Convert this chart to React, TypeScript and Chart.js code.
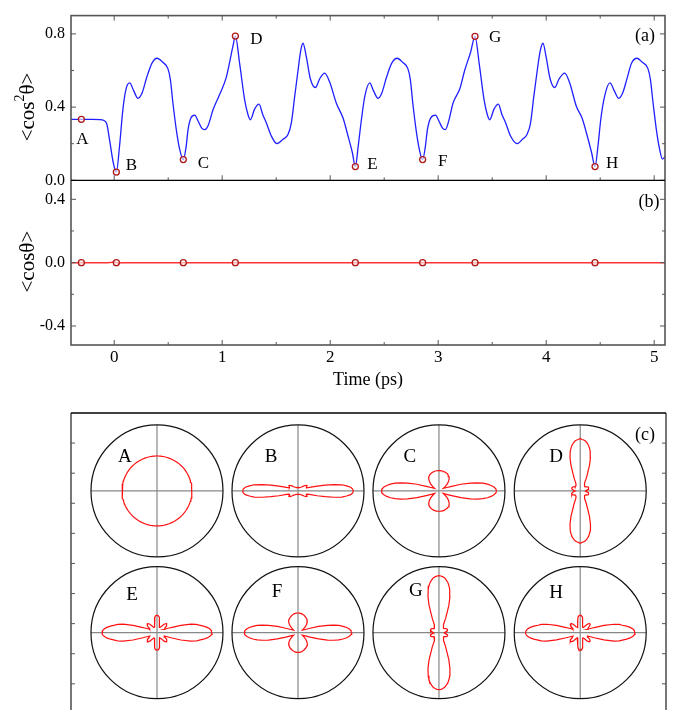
import React, { useEffect, useRef } from 'react';
import { Chart, registerables } from 'chart.js';

Chart.register(...registerables);

// ---------- Data: panel (a) <cos^2 theta> ----------
const TIME = [
  -0.4, -0.3, -0.2, -0.13, -0.1, -0.07, -0.04, -0.01, 0.02, 0.05, 0.08, 0.11, 0.144, 0.18, 0.22, 0.26, 0.3, 0.35,
  0.396, 0.45, 0.498, 0.52, 0.544, 0.575, 0.606, 0.64, 0.665, 0.684, 0.71, 0.745, 0.78, 0.81, 0.838, 0.87, 0.915,
  0.977, 1.039, 1.1, 1.122, 1.162, 1.208, 1.239, 1.261, 1.3, 1.341, 1.375, 1.409, 1.455, 1.507, 1.563, 1.609, 1.64,
  1.671, 1.702, 1.727, 1.748, 1.78, 1.816, 1.863, 1.903, 1.949, 1.995, 2.057, 2.119, 2.165, 2.205, 2.233, 2.26,
  2.289, 2.32, 2.366, 2.4, 2.443, 2.48, 2.52, 2.57, 2.619, 2.67, 2.72, 2.742, 2.765, 2.795, 2.825, 2.856, 2.88,
  2.9, 2.93, 2.974, 3.01, 3.04, 3.067, 3.1, 3.137, 3.2, 3.245, 3.3, 3.341, 3.38, 3.425, 3.455, 3.477, 3.517, 3.557,
  3.59, 3.625, 3.67, 3.73, 3.78, 3.822, 3.855, 3.885, 3.917, 3.945, 3.97, 4.0, 4.036, 4.079, 4.12, 4.171, 4.215,
  4.28, 4.332, 4.372, 4.42, 4.452, 4.48, 4.505, 4.54, 4.59, 4.63, 4.671, 4.71, 4.75, 4.79, 4.841, 4.89, 4.943,
  4.965, 4.99, 5.02, 5.05, 5.076, 5.1,
];
const COS2 = [
  0.333, 0.333, 0.333, 0.332, 0.328, 0.31, 0.21, 0.1, 0.045, 0.19, 0.385, 0.5, 0.532, 0.49, 0.448, 0.48, 0.56, 0.64,
  0.667, 0.645, 0.609, 0.55, 0.421, 0.277, 0.17, 0.113, 0.18, 0.277, 0.34, 0.356, 0.32, 0.285, 0.277, 0.3, 0.385,
  0.47, 0.565, 0.735, 0.788, 0.636, 0.439, 0.358, 0.331, 0.389, 0.416, 0.36, 0.313, 0.242, 0.2, 0.224, 0.25, 0.313,
  0.457, 0.6, 0.708, 0.749, 0.672, 0.555, 0.507, 0.555, 0.586, 0.537, 0.421, 0.34, 0.242, 0.152, 0.075, 0.19,
  0.331, 0.457, 0.532, 0.49, 0.448, 0.48, 0.56, 0.64, 0.667, 0.645, 0.609, 0.55, 0.421, 0.277, 0.17, 0.113, 0.18,
  0.277, 0.34, 0.356, 0.32, 0.285, 0.277, 0.33, 0.421, 0.5, 0.6, 0.7, 0.787, 0.636, 0.439, 0.358, 0.331, 0.389, 0.416,
  0.36, 0.313, 0.242, 0.2, 0.224, 0.25, 0.313, 0.457, 0.6, 0.708, 0.749, 0.672, 0.555, 0.507, 0.555, 0.586, 0.537,
  0.403, 0.34, 0.26, 0.152, 0.075, 0.19, 0.331, 0.457, 0.532, 0.49, 0.448, 0.48, 0.56, 0.64, 0.667, 0.645, 0.609,
  0.55, 0.421, 0.277, 0.17, 0.116, 0.13,
];
const MARK_T = [-0.304, 0.02, 0.64, 1.122, 2.233, 2.856, 3.341, 4.452];
const MARK_COS2 = [0.333, 0.045, 0.113, 0.788, 0.075, 0.113, 0.787, 0.075];
const MARK_COS = [0, 0, 0, 0, 0, 0, 0, 0];
const MARK_NAMES = ['A', 'B', 'C', 'D', 'E', 'F', 'G', 'H'];

// ---------- Data: panel (b) <cos theta> ----------
const COS_T = [-0.4, -0.06, -0.02, 0.0, 0.03, 0.08, 5.1];
const COS = [0, 0, 0.002, 0.004, -0.002, 0, 0];

// ---------- Tick values ----------
const X_TICKS = [0, 1, 2, 3, 4, 5];
const X_MINOR = [0.5, 1.5, 2.5, 3.5, 4.5];
const YA_TICKS = [0, 0.4, 0.8];
const YA_MINOR = [0.2, 0.6];
const YB_TICKS = [-0.4, 0, 0.4];
const YB_MINOR = [-0.2, 0.2];
const C_TICKS = [-1, -2, -3, -4, -5, -6, -7, -8, -9];

// ---------- Data: panel (c) angular distributions (radius vs angle, first quadrant) ----------
const ANGLES = [0, 2, 4, 6, 8, 10, 12, 14, 17, 20, 25, 30, 35, 40, 45, 50, 55, 60, 65, 70, 73, 76, 78, 80, 82, 84, 86, 88, 90];
const SHAPE_A = [0.53, 0.53, 0.53, 0.53, 0.53, 0.53, 0.53, 0.53, 0.53, 0.53, 0.53, 0.53, 0.53, 0.53, 0.53, 0.53, 0.53, 0.53, 0.53, 0.53, 0.53, 0.53, 0.53, 0.53, 0.53, 0.53, 0.53, 0.53, 0.53];
const SHAPE_B = [0.838, 0.83, 0.8, 0.74, 0.67, 0.55, 0.42, 0.3, 0.18, 0.14, 0.14, 0.16, 0.15, 0.12, 0.09, 0.075, 0.068, 0.06, 0.055, 0.053, 0.053, 0.053, 0.053, 0.053, 0.053, 0.053, 0.053, 0.053, 0.053];
const SHAPE_C = [0.871, 0.864, 0.836, 0.795, 0.742, 0.674, 0.591, 0.492, 0.348, 0.205, 0.114, 0.076, 0.114, 0.165, 0.205, 0.242, 0.265, 0.28, 0.291, 0.297, 0.3, 0.303, 0.305, 0.306, 0.308, 0.308, 0.308, 0.308, 0.308];
const SHAPE_D = [0.076, 0.083, 0.091, 0.098, 0.106, 0.114, 0.121, 0.129, 0.136, 0.136, 0.133, 0.121, 0.106, 0.098, 0.098, 0.103, 0.109, 0.136, 0.227, 0.41, 0.53, 0.624, 0.667, 0.707, 0.735, 0.76, 0.773, 0.78, 0.795];
const SHAPE_E = [0.833, 0.826, 0.803, 0.765, 0.712, 0.652, 0.606, 0.53, 0.379, 0.227, 0.121, 0.136, 0.174, 0.197, 0.197, 0.167, 0.114, 0.091, 0.091, 0.106, 0.121, 0.152, 0.182, 0.212, 0.235, 0.25, 0.258, 0.262, 0.262];
const SHAPE_F = [0.814, 0.806, 0.78, 0.742, 0.689, 0.629, 0.553, 0.462, 0.326, 0.197, 0.106, 0.076, 0.106, 0.152, 0.189, 0.22, 0.239, 0.253, 0.265, 0.276, 0.282, 0.288, 0.291, 0.294, 0.295, 0.297, 0.298, 0.298, 0.298];
const SHAPE_G = [0.076, 0.083, 0.091, 0.098, 0.106, 0.114, 0.121, 0.129, 0.136, 0.136, 0.133, 0.121, 0.106, 0.098, 0.098, 0.106, 0.114, 0.144, 0.242, 0.439, 0.568, 0.674, 0.727, 0.773, 0.803, 0.833, 0.848, 0.859, 0.864];
const SHAPE_H = [0.829, 0.822, 0.8, 0.761, 0.709, 0.648, 0.603, 0.527, 0.376, 0.227, 0.121, 0.136, 0.174, 0.197, 0.197, 0.167, 0.114, 0.091, 0.091, 0.106, 0.121, 0.152, 0.182, 0.212, 0.235, 0.25, 0.258, 0.265, 0.268];
const SHAPES = [SHAPE_A, SHAPE_B, SHAPE_C, SHAPE_D, SHAPE_E, SHAPE_F, SHAPE_G, SHAPE_H];

// ---------- Layout / style constants ----------
const SERIF = "'Liberation Serif', 'Times New Roman', serif";
const LABEL_OFF_A = [[1, 20], [15, -7], [20, 4], [21, 3], [17, -2], [20, 2], [20, 1], [17, -3]];
const CELL_CX = [2.857, 7.542, 12.226, 16.92];
const CELL_CY = [-2.59, -7.3];
const CELL_R = 2.193;
const CELL_LABEL_OFF = [[-32, -34], [-27, -34], [-29, -34], [-24, -34], [-25, -38], [-21, -41], [-23, -42], [-24, -40]];

function polarPoints(r: number[], cx: number, cy: number, R: number) {
  const pts: { x: number; y: number }[] = [];
  const n = ANGLES.length;
  const push = (deg: number, rr: number) => {
    const a = (deg * Math.PI) / 180;
    pts.push({ x: cx + rr * R * Math.cos(a), y: cy + rr * R * Math.sin(a) });
  };
  for (let i = 0; i < n; i++) push(ANGLES[i], r[i]);
  for (let i = n - 2; i >= 0; i--) push(180 - ANGLES[i], r[i]);
  for (let i = 1; i < n; i++) push(180 + ANGLES[i], r[i]);
  for (let i = n - 2; i >= 0; i--) push(360 - ANGLES[i], r[i]);
  return pts;
}

function drawRotTitle(ctx: CanvasRenderingContext2D, cx: number, cy: number, parts: { t: string; sup?: boolean }[]) {
  ctx.save();
  ctx.translate(cx, cy);
  ctx.rotate(-Math.PI / 2);
  const big = `21px ${SERIF}`;
  const small = `14px ${SERIF}`;
  let w = 0;
  for (const p of parts) {
    ctx.font = p.sup ? small : big;
    w += ctx.measureText(p.t).width;
  }
  let x = -w / 2;
  ctx.textAlign = 'left';
  ctx.textBaseline = 'middle';
  ctx.fillStyle = '#000';
  for (const p of parts) {
    ctx.font = p.sup ? small : big;
    ctx.fillText(p.t, x, p.sup ? -8 : 0);
    x += ctx.measureText(p.t).width;
  }
  ctx.restore();
}

const frameTop = {
  id: 'frameTop',
  afterDraw(chart: any) {
    const { ctx, chartArea: ca, scales } = chart;
    const x = scales.x, ya = scales.ya, yb = scales.yb;
    ctx.save();
    const line = (x1: number, y1: number, x2: number, y2: number) => {
      ctx.beginPath();
      ctx.moveTo(x1, y1);
      ctx.lineTo(x2, y2);
      ctx.stroke();
    };
    ctx.strokeStyle = '#555';
    ctx.lineWidth = 1;
    const xt = (vals: number[], len: number) =>
      vals.forEach((v) => {
        const px = x.getPixelForValue(v);
        line(px, ca.top, px, ca.top + len);
        line(px, ya.bottom, px, ya.bottom - len);
        line(px, ca.bottom, px, ca.bottom - len);
      });
    xt(X_TICKS, 5);
    xt(X_MINOR, 3);
    const yt = (sc: any, vals: number[], len: number) =>
      vals.forEach((v) => {
        const py = sc.getPixelForValue(v);
        line(ca.left, py, ca.left + len, py);
        line(ca.right, py, ca.right - len, py);
      });
    yt(ya, YA_TICKS, 5);
    yt(ya, YA_MINOR, 3);
    yt(yb, YB_TICKS, 5);
    yt(yb, YB_MINOR, 3);
    ctx.strokeStyle = '#555';
    ctx.lineWidth = 1.6;
    ctx.strokeRect(ca.left, ca.top, ca.right - ca.left, ca.bottom - ca.top);
    ctx.strokeStyle = '#000';
    ctx.lineWidth = 1.3;
    line(ca.left, ya.bottom, ca.right, ya.bottom);

    // point labels
    ctx.fillStyle = '#000';
    ctx.font = `17px ${SERIF}`;
    ctx.textAlign = 'center';
    ctx.textBaseline = 'middle';
    const meta = chart.getDatasetMeta(1);
    meta.data.forEach((pt: any, i: number) => {
      ctx.fillText(MARK_NAMES[i], pt.x + LABEL_OFF_A[i][0], pt.y + LABEL_OFF_A[i][1]);
    });
    ctx.font = `18px ${SERIF}`;
    ctx.fillText('(a)', ca.right - 20, ca.top + 21);
    ctx.fillText('(b)', ca.right - 16, yb.top + 22);

    drawRotTitle(ctx, 28, (ya.top + ya.bottom) / 2 + 9, [{ t: '<cos' }, { t: '2', sup: true }, { t: 'θ>' }]);
    drawRotTitle(ctx, 28, (yb.top + yb.bottom) / 2 - 1, [{ t: '<cosθ>' }]);
    ctx.restore();
  },
};

const framePolar = {
  id: 'framePolar',
  beforeDatasetsDraw(chart: any) {
    const { ctx, scales } = chart;
    const x = scales.x, y = scales.y;
    const rpx = x.getPixelForValue(CELL_R) - x.getPixelForValue(0);
    ctx.save();
    CELL_CY.forEach((cy) =>
      CELL_CX.forEach((cx) => {
        const px = x.getPixelForValue(cx);
        const py = y.getPixelForValue(cy);
        ctx.strokeStyle = '#888';
        ctx.lineWidth = 1.2;
        ctx.beginPath();
        ctx.moveTo(px - rpx, py);
        ctx.lineTo(px + rpx, py);
        ctx.moveTo(px, py - rpx);
        ctx.lineTo(px, py + rpx);
        ctx.stroke();
        ctx.strokeStyle = '#111';
        ctx.lineWidth = 1.2;
        ctx.beginPath();
        ctx.arc(px, py, rpx, 0, Math.PI * 2);
        ctx.stroke();
      })
    );
    ctx.restore();
  },
  afterDraw(chart: any) {
    const { ctx, chartArea: ca, scales } = chart;
    const x = scales.x, y = scales.y;
    ctx.save();
    const line = (x1: number, y1: number, x2: number, y2: number) => {
      ctx.beginPath();
      ctx.moveTo(x1, y1);
      ctx.lineTo(x2, y2);
      ctx.stroke();
    };
    ctx.strokeStyle = '#555';
    ctx.lineWidth = 1;
    C_TICKS.forEach((v) => {
      const py = y.getPixelForValue(v);
      line(ca.left, py, ca.left + 4, py);
      line(ca.right, py, ca.right - 4, py);
    });
    ctx.lineWidth = 1.6;
    line(ca.left, ca.top, ca.left, chart.height);
    line(ca.right, ca.top, ca.right, chart.height);
    ctx.strokeStyle = '#000';
    ctx.lineWidth = 1.3;
    line(ca.left, ca.top, ca.right, ca.top);

    ctx.fillStyle = '#000';
    ctx.font = `19px ${SERIF}`;
    ctx.textAlign = 'center';
    ctx.textBaseline = 'middle';
    let k = 0;
    CELL_CY.forEach((cy) =>
      CELL_CX.forEach((cx) => {
        const px = x.getPixelForValue(cx);
        const py = y.getPixelForValue(cy);
        ctx.fillText(MARK_NAMES[k], px + CELL_LABEL_OFF[k][0], py + CELL_LABEL_OFF[k][1]);
        k++;
      })
    );
    ctx.font = `18px ${SERIF}`;
    ctx.fillText('(c)', ca.right - 21, ca.top + 22);
    ctx.restore();
  },
};

export default function App() {
  const ref1 = useRef<HTMLCanvasElement>(null);
  const ref2 = useRef<HTMLCanvasElement>(null);

  useEffect(() => {
    const tickFontY = { family: SERIF, size: 16 };
    const tickFontX = { family: SERIF, size: 17 };
    const c1 = new Chart(ref1.current as HTMLCanvasElement, {
      type: 'scatter',
      data: {
        datasets: [
          {
            data: TIME.map((t, i) => ({ x: t, y: COS2[i] })),
            yAxisID: 'ya',
            showLine: true,
            borderColor: '#1f1fff',
            borderWidth: 1.3,
            pointRadius: 0,
            cubicInterpolationMode: 'monotone',
            order: 2,
          } as any,
          {
            data: MARK_T.map((t, i) => ({ x: t, y: MARK_COS2[i] })),
            yAxisID: 'ya',
            showLine: false,
            pointRadius: 3,
            pointBorderWidth: 1.3,
            pointBorderColor: '#b01818',
            pointBackgroundColor: 'rgba(255,255,255,0.6)',
            order: 1,
          },
          {
            data: COS_T.map((t, i) => ({ x: t, y: COS[i] })),
            yAxisID: 'yb',
            showLine: true,
            borderColor: '#ff3535',
            borderWidth: 1.5,
            pointRadius: 0,
            order: 2,
          },
          {
            data: MARK_T.map((t, i) => ({ x: t, y: MARK_COS[i] })),
            yAxisID: 'yb',
            showLine: false,
            pointRadius: 3,
            pointBorderWidth: 1.3,
            pointBorderColor: '#b01818',
            pointBackgroundColor: 'rgba(255,255,255,0.6)',
            order: 1,
          },
        ],
      },
      options: {
        responsive: false,
        animation: false,
        layout: { padding: { left: 0, right: 17, top: 11, bottom: 0 } },
        plugins: { legend: { display: false }, tooltip: { enabled: false } },
        scales: {
          x: {
            type: 'linear',
            min: -0.4,
            max: 5.1,
            afterBuildTicks: (s: any) => {
              s.ticks = X_TICKS.map((v) => ({ value: v }));
            },
            afterFit: (s: any) => {
              s.height = 55;
            },
            ticks: { font: tickFontX, color: '#000', padding: 2, callback: (v: any) => String(v) },
            grid: { display: false, drawTicks: false },
            border: { display: false },
            title: { display: true, text: 'Time (ps)', color: '#000', font: { family: SERIF, size: 18 }, padding: { top: 0, bottom: 9 } },
          },
          ya: {
            type: 'linear',
            position: 'left',
            stack: 'v',
            stackWeight: 1,
            weight: 2,
            min: 0,
            max: 0.9,
            afterBuildTicks: (s: any) => {
              s.ticks = YA_TICKS.map((v) => ({ value: v }));
            },
            afterFit: (s: any) => {
              s.width = 71;
            },
            ticks: { font: tickFontY, color: '#000', padding: 6, callback: (v: any) => Number(v).toFixed(1) },
            grid: { display: false, drawTicks: false },
            border: { display: false },
          },
          yb: {
            type: 'linear',
            position: 'left',
            stack: 'v',
            stackWeight: 1,
            weight: 1,
            min: -0.52,
            max: 0.52,
            afterBuildTicks: (s: any) => {
              s.ticks = YB_TICKS.map((v) => ({ value: v }));
            },
            afterFit: (s: any) => {
              s.width = 71;
            },
            ticks: { font: tickFontY, color: '#000', padding: 6, callback: (v: any) => Number(v).toFixed(1) },
            grid: { display: false, drawTicks: false },
            border: { display: false },
          },
        } as any,
      },
      plugins: [frameTop],
    });

    const polarSets = SHAPES.map((shape, i) => ({
      data: polarPoints(shape, CELL_CX[i % 4], CELL_CY[Math.floor(i / 4)], CELL_R),
      showLine: true,
      borderColor: '#ff1010',
      borderWidth: 1.2,
      pointRadius: 0,
      tension: 0,
    }));

    const c2 = new Chart(ref2.current as HTMLCanvasElement, {
      type: 'scatter',
      data: { datasets: polarSets },
      options: {
        responsive: false,
        animation: false,
        layout: { padding: { left: 71, right: 16, top: 13, bottom: 0 } },
        plugins: { legend: { display: false }, tooltip: { enabled: false } },
        scales: {
          x: { type: 'linear', display: false, min: 0, max: 19.77 },
          y: { type: 'linear', display: false, min: -9.87, max: 0 },
        },
      },
      plugins: [framePolar],
    });

    return () => {
      c1.destroy();
      c2.destroy();
    };
  }, []);

  return (
    <div style={{ position: 'absolute', left: 0, top: 0, width: 682, height: 710, background: '#fff', overflow: 'hidden' }}>
      <canvas ref={ref1} width={682} height={400} style={{ position: 'absolute', left: 0, top: 0 }} />
      <canvas ref={ref2} width={682} height={310} style={{ position: 'absolute', left: 0, top: 400 }} />
    </div>
  );
}
